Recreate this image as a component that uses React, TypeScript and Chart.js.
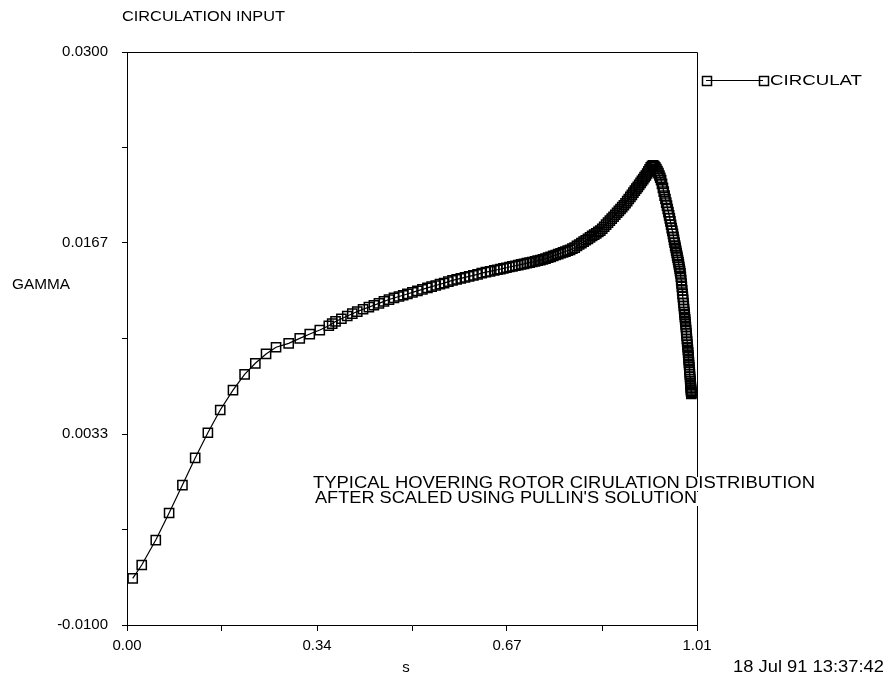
import React, { useEffect, useRef } from "react";
import { Chart, registerables } from "chart.js";
Chart.register(...registerables);

const sValues = [
  0.0101, 0.0261, 0.051, 0.0746, 0.0982, 0.1208, 0.1433, 0.1652, 0.1878, 0.2084,
  0.2274, 0.2464, 0.2641, 0.2865, 0.3061, 0.3238, 0.3416,
  0.3576, 0.3636, 0.3695, 0.3799, 0.3903, 0.3992, 0.408, 0.4183, 0.4286, 0.4375,
  0.4464, 0.4553, 0.4642, 0.4731, 0.4819, 0.4894, 0.4968, 0.5057, 0.5146, 0.5235,
  0.5324, 0.5398, 0.5471, 0.5545, 0.5619, 0.5694, 0.5768, 0.5842, 0.5915, 0.5989,
  0.6063, 0.6138, 0.6212, 0.6286, 0.6359, 0.6433, 0.6507, 0.6562, 0.6617, 0.667,
  0.6723, 0.6777, 0.683, 0.6882, 0.6933, 0.6984, 0.7034, 0.7084, 0.7134, 0.7182,
  0.723, 0.7277, 0.7324, 0.737, 0.7416, 0.7462, 0.7507, 0.7552, 0.7596, 0.764,
  0.7683, 0.7726, 0.7768, 0.781, 0.7851, 0.7892, 0.7933, 0.7973, 0.8013, 0.8052,
  0.8091, 0.8129, 0.8167, 0.8205, 0.8242, 0.8279, 0.8315, 0.8351, 0.8386, 0.8421,
  0.8455, 0.8489, 0.8523, 0.8556, 0.8589, 0.8621, 0.8652, 0.8684, 0.8715, 0.8745,
  0.8775, 0.8805, 0.8834, 0.8863, 0.8891, 0.8919, 0.8946, 0.8973, 0.8999, 0.9025,
  0.905, 0.9075, 0.91, 0.9124, 0.9148, 0.9171, 0.9194, 0.9217, 0.9239, 0.926,
  0.9281, 0.9302, 0.9322, 0.9342, 0.9361, 0.938, 0.9399, 0.9417, 0.9434, 0.9449,
  0.9464, 0.948, 0.9496, 0.9511, 0.9526, 0.9541, 0.9555, 0.9568, 0.9581, 0.9594,
  0.9606, 0.9618, 0.9629, 0.9641, 0.9652, 0.9663, 0.9674, 0.9684, 0.9693, 0.9703,
  0.9713, 0.9722, 0.9731, 0.974, 0.9748, 0.9756, 0.9764, 0.9772, 0.9779, 0.9786,
  0.9793, 0.98, 0.9807, 0.9814, 0.982, 0.9826, 0.9832, 0.9838, 0.9844, 0.985,
  0.9855, 0.9861, 0.9866, 0.9871, 0.9876, 0.9881, 0.9885, 0.989, 0.9894, 0.9899,
  0.9903, 0.9908, 0.9912, 0.9917, 0.9921, 0.9926, 0.993, 0.9935, 0.9939, 0.9943,
  0.9946, 0.995, 0.9953, 0.9957, 0.996, 0.9964, 0.9967, 0.9971, 0.9974, 0.9977,
  0.9979, 0.9982, 0.9985, 0.9988, 0.999, 0.9992, 0.9994, 0.9996, 0.9997, 0.9999,
  1.0,
];

const gammaValues = [
  -0.00674, -0.00581, -0.00407, -0.00218, -0.00023, 0.00166, 0.00342, 0.00501, 0.0064, 0.0075,
  0.00827, 0.00892, 0.00939, 0.00966, 0.01001, 0.01031, 0.01059,
  0.01089, 0.01104, 0.01119, 0.01138, 0.01157, 0.01173, 0.01188, 0.01204, 0.01219, 0.01232,
  0.01245, 0.01259, 0.01272, 0.01283, 0.01293, 0.01302, 0.01311, 0.01322, 0.01332, 0.01343,
  0.01353, 0.01362, 0.0137, 0.01379, 0.01387, 0.01397, 0.01406, 0.01413, 0.0142, 0.01427,
  0.01434, 0.01441, 0.01448, 0.01456, 0.01463, 0.01469, 0.01475, 0.0148, 0.01484, 0.01489,
  0.01494, 0.01499, 0.01503, 0.01508, 0.01512, 0.01517, 0.01521, 0.01526, 0.0153, 0.01534,
  0.01538, 0.01543, 0.01547, 0.01552, 0.01557, 0.01564, 0.0157, 0.01577, 0.01583, 0.01589,
  0.01595, 0.01601, 0.01607, 0.01613, 0.01619, 0.01627, 0.01635, 0.01646, 0.01656, 0.01666,
  0.01676, 0.01686, 0.01696, 0.01706, 0.01716, 0.01725, 0.01734, 0.01744, 0.01753, 0.01766,
  0.0178, 0.01795, 0.01809, 0.01823, 0.01837, 0.0185, 0.01864, 0.01878, 0.01891, 0.01904,
  0.01917, 0.0193, 0.01944, 0.01959, 0.01974, 0.01989, 0.02003, 0.02018, 0.02032, 0.02046,
  0.02059, 0.02073, 0.02086, 0.021, 0.02113, 0.02126, 0.02138, 0.02152, 0.02166, 0.0218,
  0.02194, 0.02204, 0.02208, 0.02204, 0.02194, 0.02182, 0.02169, 0.02154, 0.02138, 0.02122,
  0.02106, 0.02079, 0.02051, 0.02025, 0.01998, 0.01974, 0.01949, 0.01927, 0.01904, 0.01882,
  0.01859, 0.01838, 0.01817, 0.01794, 0.01771, 0.01751, 0.0173, 0.01709, 0.01688, 0.01669,
  0.01649, 0.01632, 0.01614, 0.01597, 0.01579, 0.01564, 0.01548, 0.01533, 0.01517, 0.01501,
  0.01485, 0.0147, 0.01454, 0.01431, 0.01408, 0.01384, 0.0136, 0.01336, 0.01311, 0.0129,
  0.01269, 0.01248, 0.01227, 0.01206, 0.01185, 0.01168, 0.0115, 0.01133, 0.01115, 0.01098,
  0.0108, 0.01059, 0.01038, 0.01018, 0.00997, 0.00978, 0.00958, 0.00939, 0.0092, 0.00903,
  0.00885, 0.00868, 0.0085, 0.00833, 0.00815, 0.00798, 0.0078, 0.00765, 0.00749, 0.00733,
  0.00717, 0.00703, 0.00689, 0.00677, 0.00665, 0.00655, 0.00644, 0.00636, 0.00627, 0.0062,
  0.00613,
];

const xTickValues = [0, 0.168333, 0.336667, 0.505, 0.673333, 0.841667, 1.01];
const xTickLabels = ["0.00", "", "0.34", "", "0.67", "", "1.01"];
const yTickValues = [-0.01, -0.003333, 0.003333, 0.01, 0.016667, 0.023333, 0.03];
const yTickLabels = ["-0.0100", "", "0.0033", "", "0.0167", "", "0.0300"];

const seriesName = "CIRCULAT";
const chartTitle = "CIRCULATION INPUT";
const yAxisTitle = "GAMMA";
const xAxisTitle = "s";
const noteLines = [
  "TYPICAL HOVERING ROTOR CIRULATION DISTRIBUTION",
  "AFTER SCALED USING PULLIN'S SOLUTION",
];
const timestamp = "18 Jul 91 13:37:42";

const FONT = "'Liberation Sans', Arial, Helvetica, sans-serif";

function fitText(ctx: any, text: string, x: number, y: number, size: number, width: number, align: "left" | "right" = "left") {
  ctx.save();
  ctx.font = `${size}px ${FONT}`;
  ctx.textAlign = "left";
  ctx.textBaseline = "middle";
  const w = ctx.measureText(text).width;
  const sx = width / w;
  const x0 = align === "right" ? x - width : x;
  ctx.translate(x0, y);
  ctx.scale(sx, 1);
  ctx.fillText(text, 0, 0);
  ctx.restore();
}

const decorPlugin = {
  id: "decor",
  afterDraw(chart: any) {
    const { ctx, chartArea } = chart;
    const { left, right, top, bottom } = chartArea;
    ctx.save();
    ctx.strokeStyle = "#000";
    ctx.fillStyle = "#000";
    ctx.lineWidth = 1;
    // top and right frame
    ctx.beginPath();
    ctx.moveTo(left, top + 0.5);
    ctx.lineTo(right + 0.5, top + 0.5);
    ctx.lineTo(right + 0.5, bottom);
    ctx.stroke();

    fitText(ctx, chartTitle, 122, 17, 14, 163);
    fitText(ctx, yAxisTitle, 12, 285, 15, 58);

    ctx.font = `15px ${FONT}`;
    ctx.textAlign = "center";
    ctx.textBaseline = "middle";
    ctx.fillText(xAxisTitle, 406, 668);

    fitText(ctx, timestamp, 884, 668, 16, 151, "right");

    // note with white backing
    const noteX = [313, 315];
    const noteY = [484, 499];
    const noteW = [502, 382];
    ctx.fillStyle = "#fff";
    noteLines.forEach((_t, i) => {
      ctx.fillRect(noteX[i] - 1, noteY[i] - 7, noteW[i] + 2, 14);
    });
    ctx.fillStyle = "#000";
    noteLines.forEach((t, i) => {
      fitText(ctx, t, noteX[i], noteY[i], 16, noteW[i]);
    });

    // legend
    const ly = 80.5;
    const lx1 = 706;
    const lx2 = 763;
    ctx.lineWidth = 1;
    ctx.beginPath();
    ctx.moveTo(lx1, ly);
    ctx.lineTo(lx2, ly);
    ctx.stroke();
    ctx.lineWidth = 1.5;
    [lx1, lx2].forEach((x) => {
      ctx.strokeRect(Math.round(x - 4.5) + 0.5, Math.round(ly - 4.5) + 0.5, 9, 9);
    });
    fitText(ctx, seriesName, 770, ly, 15, 92);
    ctx.restore();
  },
};

export default function App() {
  const canvasRef = useRef<HTMLCanvasElement | null>(null);

  useEffect(() => {
    if (!canvasRef.current) return;
    const points = sValues.map((s, i) => ({ x: s, y: gammaValues[i] }));
    const chart = new Chart(canvasRef.current, {
      type: "line",
      data: {
        datasets: [
          {
            label: seriesName,
            data: points,
            borderColor: "#000",
            borderWidth: 1.2,
            backgroundColor: "rgba(0,0,0,0)",
            pointStyle: "rect",
            pointRadius: 6.5,
            pointBorderWidth: 1.5,
            pointBorderColor: "#000",
            pointBackgroundColor: "rgba(0,0,0,0)",
            tension: 0,
          },
        ],
      },
      options: {
        animation: false,
        responsive: false,
        maintainAspectRatio: false,
        layout: { padding: { left: 0, top: 52, right: 192, bottom: 0 } },
        plugins: {
          legend: { display: false },
          tooltip: { enabled: false },
          title: { display: false },
        },
        scales: {
          x: {
            type: "linear",
            min: 0,
            max: 1.01,
            afterFit: (scale: any) => {
              scale.height = 58;
            },
            afterBuildTicks: (axis: any) => {
              axis.ticks = xTickValues.map((v) => ({ value: v }));
            },
            ticks: {
              autoSkip: false,
              maxRotation: 0,
              color: "#000",
              padding: 6,
              font: { family: FONT, size: 15 },
              callback: (_v: any, i: number) => xTickLabels[i],
            },
            grid: {
              display: true,
              drawOnChartArea: false,
              drawTicks: true,
              tickLength: 6,
              tickColor: "#000",
              color: "#000",
            },
            border: { display: true, color: "#000", width: 1 },
          },
          y: {
            type: "linear",
            min: -0.01,
            max: 0.03,
            afterFit: (scale: any) => {
              scale.width = 127;
            },
            afterBuildTicks: (axis: any) => {
              axis.ticks = yTickValues.map((v) => ({ value: v }));
            },
            ticks: {
              autoSkip: false,
              color: "#000",
              padding: 14,
              font: { family: FONT, size: 15 },
              callback: (_v: any, i: number) => yTickLabels[i],
            },
            grid: {
              display: true,
              drawOnChartArea: false,
              drawTicks: true,
              tickLength: 5,
              tickColor: "#000",
              color: "#000",
            },
            border: { display: true, color: "#000", width: 1 },
          },
        },
      },
      plugins: [decorPlugin],
    });
    return () => chart.destroy();
  }, []);

  return (
    <div style={{ position: "absolute", left: 0, top: 0, width: 889, height: 683, background: "#fff" }}>
      <canvas ref={canvasRef} width={889} height={683} style={{ display: "block" }} />
    </div>
  );
}
